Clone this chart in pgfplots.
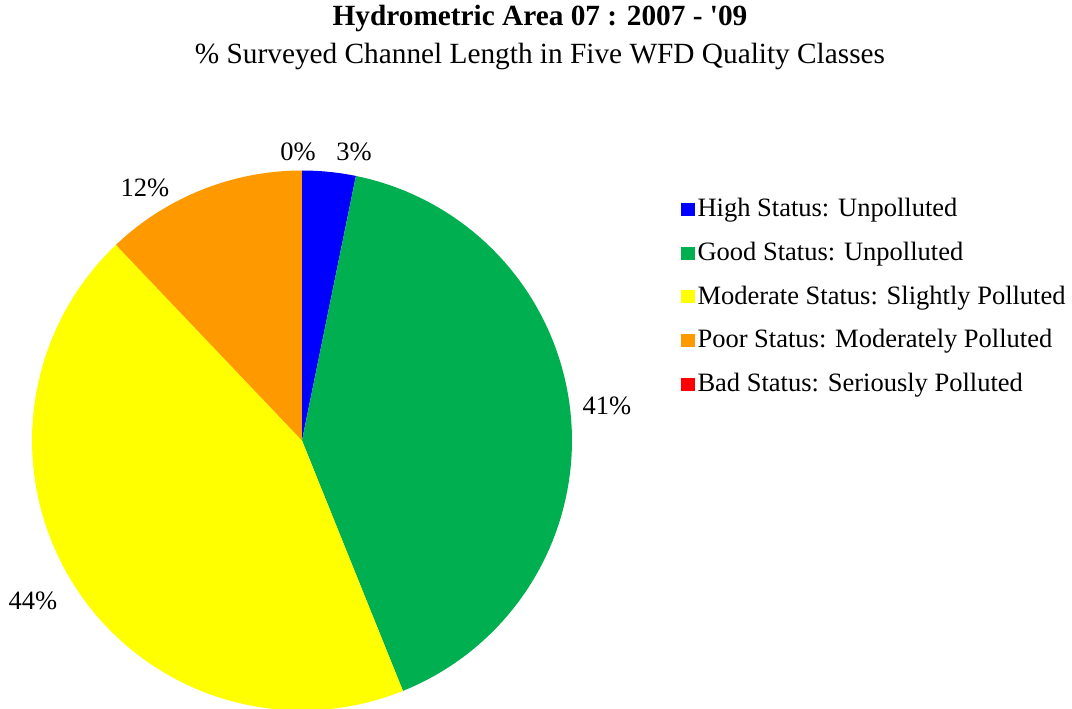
\documentclass[border=0pt]{standalone}
\usepackage{fontspec}
\setmainfont{Liberation Serif}
\usepackage{pgfplots}
\pgfplotsset{compat=1.18}
\usepgfplotslibrary{polar}
\definecolor{cHigh}{HTML}{0000FF}
\definecolor{cGood}{HTML}{00B050}
\definecolor{cMod}{HTML}{FFFF00}
\definecolor{cPoor}{HTML}{FF9900}
\definecolor{cBad}{HTML}{FF0000}
\begin{document}
\fontsize{26.5}{30}\selectfont
\begin{tikzpicture}[x=1pt,y=1pt]
\useasboundingbox (0,0) rectangle (1072,709);
% shares (%): High 3.2, Good 40.7, Moderate 44.0, Poor 12.1, Bad 0.0
% slices run clockwise from 12 o'clock: angle = 90 - 3.6*cumulative share
\begin{polaraxis}[
  hide axis, xmin=0, xmax=360, ymin=0, ymax=1,
  width=540pt, height=540pt, scale only axis,
  at={(302pt,268.5pt)}, anchor=center, clip=false,
  legend cell align=left,
  legend style={draw=none, fill=none, at={(1.196,0.955)}, anchor=north west,
    font=\fontsize{26.5}{30}\selectfont, row sep=19.5pt,
    nodes={inner xsep=2.5pt, inner ysep=1pt}},
  legend image code/.code={\fill[#1] (0pt,-6.5pt) rectangle (14pt,6.5pt);},
]
\addplot[draw=none, fill=cHigh, domain=78.48:90, samples=10] {1} -- (axis cs:0,0) -- cycle;
\addlegendentry{High Status: Unpolluted}
\addplot[draw=none, fill=cGood, domain=-68.04:78.48, samples=80] {1} -- (axis cs:0,0) -- cycle;
\addlegendentry{Good Status: Unpolluted}
\addplot[draw=none, fill=cMod, domain=-226.44:-68.04, samples=80] {1} -- (axis cs:0,0) -- cycle;
\addlegendentry{Moderate Status: Slightly Polluted}
\addplot[draw=none, fill=cPoor, domain=-270:-226.44, samples=30] {1} -- (axis cs:0,0) -- cycle;
\addlegendentry{Poor Status: Moderately Polluted}
\addlegendimage{draw=none, fill=cBad}
\addlegendentry{Bad Status: Seriously Polluted}
\end{polaraxis}
\node[font=\fontsize{29.3}{33}\selectfont\bfseries] at (540,690) {Hydrometric Area 07 : 2007 - \textquotesingle 09};
\node[font=\fontsize{29.3}{33}\selectfont] at (540,652) {\% Surveyed Channel Length in Five WFD Quality Classes};
\node at (298,557) {0\%};
\node at (354,557) {3\%};
\node at (145,521) {12\%};
\node at (607,303) {41\%};
\node at (33,108) {44\%};
\end{tikzpicture}
\end{document}
